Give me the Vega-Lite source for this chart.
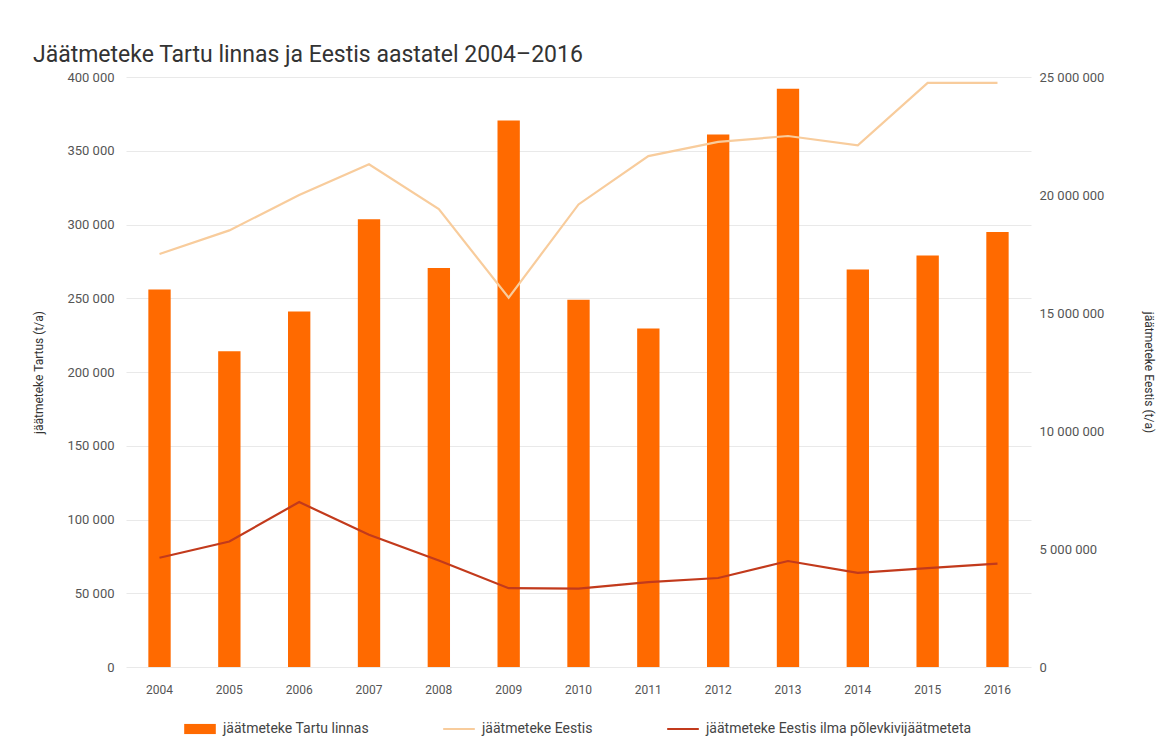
{
  "$schema": "https://vega.github.io/schema/vega-lite/v6.json",
  "width": 905,
  "height": 590,
  "padding": {"left": 32, "top": 44, "right": 3, "bottom": 5},
  "background": "white",
  "title": {
    "text": "Jäätmeteke Tartu linnas ja Eestis aastatel 2004–2016",
    "anchor": "start",
    "frame": "bounds",
    "font": "Roboto",
    "fontSize": 23,
    "fontWeight": "normal",
    "color": "#333333",
    "offset": 4
  },
  "config": {
    "font": "Roboto",
    "view": {"stroke": null},
    "locale": {
      "number": {"decimal": ",", "thousands": " ", "grouping": [3], "currency": ["", " €"]}
    }
  },
  "data": {
    "values": [
      {"year": "2004", "series": "jäätmeteke Tartu linnas", "value": 256000},
      {"year": "2005", "series": "jäätmeteke Tartu linnas", "value": 214000},
      {"year": "2006", "series": "jäätmeteke Tartu linnas", "value": 241000},
      {"year": "2007", "series": "jäätmeteke Tartu linnas", "value": 303500},
      {"year": "2008", "series": "jäätmeteke Tartu linnas", "value": 270500},
      {"year": "2009", "series": "jäätmeteke Tartu linnas", "value": 370500},
      {"year": "2010", "series": "jäätmeteke Tartu linnas", "value": 249000},
      {"year": "2011", "series": "jäätmeteke Tartu linnas", "value": 229500},
      {"year": "2012", "series": "jäätmeteke Tartu linnas", "value": 361000},
      {"year": "2013", "series": "jäätmeteke Tartu linnas", "value": 392000},
      {"year": "2014", "series": "jäätmeteke Tartu linnas", "value": 269500},
      {"year": "2015", "series": "jäätmeteke Tartu linnas", "value": 279000},
      {"year": "2016", "series": "jäätmeteke Tartu linnas", "value": 295000},
      {"year": "2004", "series": "jäätmeteke Eestis", "value": 17500000},
      {"year": "2005", "series": "jäätmeteke Eestis", "value": 18500000},
      {"year": "2006", "series": "jäätmeteke Eestis", "value": 20000000},
      {"year": "2007", "series": "jäätmeteke Eestis", "value": 21300000},
      {"year": "2008", "series": "jäätmeteke Eestis", "value": 19400000},
      {"year": "2009", "series": "jäätmeteke Eestis", "value": 15650000},
      {"year": "2010", "series": "jäätmeteke Eestis", "value": 19600000},
      {"year": "2011", "series": "jäätmeteke Eestis", "value": 21650000},
      {"year": "2012", "series": "jäätmeteke Eestis", "value": 22250000},
      {"year": "2013", "series": "jäätmeteke Eestis", "value": 22500000},
      {"year": "2014", "series": "jäätmeteke Eestis", "value": 22100000},
      {"year": "2015", "series": "jäätmeteke Eestis", "value": 24750000},
      {"year": "2016", "series": "jäätmeteke Eestis", "value": 24750000},
      {"year": "2004", "series": "jäätmeteke Eestis ilma põlevkivijäätmeteta", "value": 4630000},
      {"year": "2005", "series": "jäätmeteke Eestis ilma põlevkivijäätmeteta", "value": 5320000},
      {"year": "2006", "series": "jäätmeteke Eestis ilma põlevkivijäätmeteta", "value": 6990000},
      {"year": "2007", "series": "jäätmeteke Eestis ilma põlevkivijäätmeteta", "value": 5600000},
      {"year": "2008", "series": "jäätmeteke Eestis ilma põlevkivijäätmeteta", "value": 4510000},
      {"year": "2009", "series": "jäätmeteke Eestis ilma põlevkivijäätmeteta", "value": 3340000},
      {"year": "2010", "series": "jäätmeteke Eestis ilma põlevkivijäätmeteta", "value": 3320000},
      {"year": "2011", "series": "jäätmeteke Eestis ilma põlevkivijäätmeteta", "value": 3600000},
      {"year": "2012", "series": "jäätmeteke Eestis ilma põlevkivijäätmeteta", "value": 3770000},
      {"year": "2013", "series": "jäätmeteke Eestis ilma põlevkivijäätmeteta", "value": 4490000},
      {"year": "2014", "series": "jäätmeteke Eestis ilma põlevkivijäätmeteta", "value": 3990000},
      {"year": "2015", "series": "jäätmeteke Eestis ilma põlevkivijäätmeteta", "value": 4190000},
      {"year": "2016", "series": "jäätmeteke Eestis ilma põlevkivijäätmeteta", "value": 4380000}
    ]
  },
  "layer": [
    {
      "transform": [{"filter": "datum.series === 'jäätmeteke Tartu linnas'"}],
      "mark": {"type": "bar"},
      "encoding": {
        "x": {
          "field": "year",
          "type": "ordinal",
          "scale": {"paddingInner": 0.68, "paddingOuter": 0.32},
          "axis": {
            "title": null,
            "labelAngle": 0,
            "domain": false,
            "ticks": false,
            "grid": false,
            "labelPadding": 17,
            "labelFontSize": 12,
            "labelColor": "#555555"
          }
        },
        "y": {
          "field": "value",
          "type": "quantitative",
          "scale": {"domain": [0, 400000], "nice": false},
          "axis": {
            "title": "jäätmeteke Tartus (t/a)",
            "values": [0, 50000, 100000, 150000, 200000, 250000, 300000, 350000, 400000],
            "format": ",d",
            "grid": true,
            "gridColor": "#e9e9e9",
            "domain": false,
            "ticks": false,
            "labelPadding": 12,
            "labelFontSize": 13,
            "labelColor": "#555555",
            "titleFontSize": 12,
            "titleFontWeight": "normal",
            "titleColor": "#333333",
            "titlePadding": 21
          }
        },
        "color": {
          "field": "series",
          "type": "nominal",
          "scale": {
            "domain": ["jäätmeteke Tartu linnas", "jäätmeteke Eestis", "jäätmeteke Eestis ilma põlevkivijäätmeteta"],
            "range": ["#ff6a00", "#f8cc9c", "#c23a1c"]
          },
          "legend": {
            "orient": "none",
            "legendX": 67,
            "legendY": 645,
            "direction": "horizontal",
            "title": null,
            "symbolType": "stroke",
            "symbolSize": 1000,
            "labelFontSize": 14,
            "labelColor": "#444444",
            "labelOffset": 16,
            "labelLimit": 500,
            "columnPadding": 70,
            "encode": {
              "symbols": {
                "update": {
                  "shape": {"signal": "datum.value === 'jäätmeteke Tartu linnas' ? 'M-1,-0.32H1V0.32H-1Z' : 'stroke'"},
                  "fill": {"signal": "datum.value === 'jäätmeteke Tartu linnas' ? scale('color', datum.value) : 'transparent'"},
                  "strokeWidth": {"signal": "datum.value === 'jäätmeteke Tartu linnas' ? 0 : 2"},
                  "stroke": {"signal": "scale('color', datum.value)"},
                  "opacity": {"value": 1}
                }
              }
            }
          }
        }
      }
    },
    {
      "transform": [{"filter": "datum.series !== 'jäätmeteke Tartu linnas'"}],
      "mark": {"type": "line", "strokeWidth": 2.2},
      "encoding": {
        "x": {"field": "year", "type": "ordinal"},
        "y": {
          "field": "value",
          "type": "quantitative",
          "scale": {"domain": [0, 25000000], "nice": false},
          "axis": {
            "orient": "right",
            "title": "jäätmeteke Eestis (t/a)",
            "values": [0, 5000000, 10000000, 15000000, 20000000, 25000000],
            "format": ",d",
            "grid": false,
            "domain": false,
            "ticks": false,
            "labelPadding": 8,
            "labelFontSize": 13,
            "labelColor": "#555555",
            "titleFontSize": 12,
            "titleFontWeight": "normal",
            "titleColor": "#333333",
            "titlePadding": 38
          }
        },
        "color": {"field": "series", "type": "nominal"}
      }
    }
  ],
  "resolve": {"scale": {"y": "independent"}}
}
